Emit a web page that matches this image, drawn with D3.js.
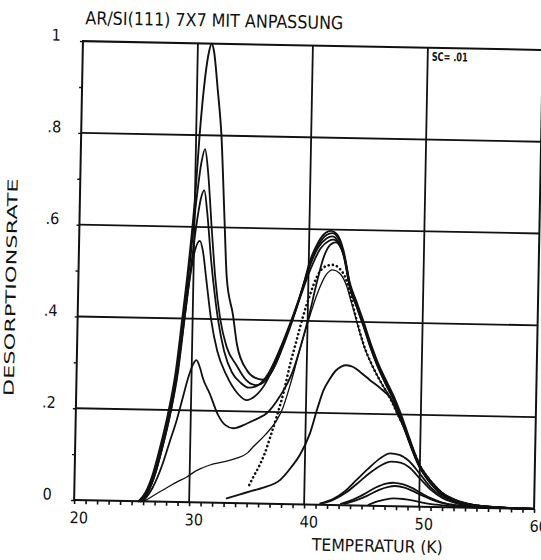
<!DOCTYPE html>
<html>
<head>
<meta charset="utf-8">
<script src="https://cdn.jsdelivr.net/npm/d3@7"></script>
<style>
  html, body { margin: 0; padding: 0; background: #fff; }
  svg { display: block; }
  text { font-family: "DejaVu Sans Condensed", "Liberation Sans Narrow", "DejaVu Sans", sans-serif; fill: #111; }
</style>
</head>
<body>
<svg id="chart" width="541" height="560"></svg>
<script>
// ---- labels ----
const title = "AR/SI(111) 7X7 MIT ANPASSUNG";
const xTitle = "TEMPERATUR (K)";
const yTitle = "DESORPTIONSRATE";
const scaleNote = "SC= .01";
const xTicks = [20, 30, 40, 50, 60];
const xTickLabels = ["20", "30", "40", "50", "60"];
const yTicks = [0, 0.2, 0.4, 0.6, 0.8, 1];
const yTickLabels = ["0", ".2", ".4", ".6", ".8", "1"];
const xGrid = [30, 40, 50];
const yGrid = [0.2, 0.4, 0.6, 0.8];

// ---- desorption spectra: [temperature (K), rate] ----
const runA = [[25.6,0],[26.2,0.02],[26.8,0.06],[27.4,0.12],[28.0,0.19],[28.6,0.28],[29.1,0.40],[29.6,0.53],[30.0,0.66],[30.3,0.80],[30.7,0.93],[31.0,0.985],[31.2,1.0],[31.4,0.985],[31.8,0.9],[32.2,0.8],[32.6,0.62],[32.9,0.49],[33.5,0.41],[33.9,0.345],[34.8,0.29],[35.5,0.274],[36.2,0.27],[37.0,0.29],[38.0,0.35],[38.8,0.41],[39.5,0.47],[40.1,0.53],[40.8,0.572],[41.4,0.592],[41.9,0.597],[42.4,0.59],[43.0,0.555],[43.6,0.485],[44.2,0.445],[44.8,0.405],[45.5,0.355],[46.3,0.305],[47.0,0.27],[47.6,0.24],[48.2,0.205],[48.8,0.165],[49.4,0.125],[50.0,0.09],[50.6,0.068],[51.2,0.05],[52.0,0.031],[53.0,0.018],[54.0,0.01],[55.0,0.005],[57.0,0.0015],[60.0,0]];
const runB = [[25.7,0],[26.3,0.02],[26.9,0.06],[27.5,0.12],[28.1,0.19],[28.7,0.28],[29.2,0.40],[29.7,0.53],[30.1,0.65],[30.5,0.74],[30.8,0.77],[31.1,0.72],[31.5,0.6],[31.9,0.49],[32.4,0.40],[33.0,0.34],[33.9,0.3],[34.7,0.27],[35.6,0.258],[36.5,0.27],[37.3,0.305],[38.2,0.37],[38.9,0.42],[39.6,0.48],[40.2,0.53],[40.9,0.57],[41.5,0.588],[42.0,0.592],[42.5,0.582],[43.0,0.55],[43.6,0.48],[44.2,0.44],[44.8,0.4],[45.5,0.35],[46.3,0.3],[47.0,0.266],[47.6,0.237],[48.2,0.2],[48.8,0.16],[49.4,0.122],[50.0,0.088],[50.6,0.066],[51.2,0.048],[52.0,0.03],[53.0,0.017],[54.0,0.009],[55.0,0.005],[57.0,0.0015],[60.0,0]];
const runC = [[25.8,0],[26.4,0.02],[27.0,0.06],[27.6,0.12],[28.2,0.19],[28.8,0.28],[29.3,0.40],[29.8,0.52],[30.2,0.61],[30.5,0.66],[30.8,0.68],[31.1,0.63],[31.5,0.53],[31.9,0.45],[32.2,0.40],[32.8,0.33],[33.5,0.285],[34.3,0.262],[35.0,0.252],[35.8,0.258],[36.7,0.285],[37.6,0.335],[38.5,0.395],[39.3,0.455],[40.1,0.52],[40.8,0.56],[41.5,0.58],[42.0,0.585],[42.5,0.575],[43.0,0.545],[43.6,0.478],[44.2,0.438],[44.8,0.398],[45.5,0.348],[46.3,0.298],[47.0,0.264],[47.6,0.235],[48.2,0.198],[48.8,0.158],[49.4,0.12],[50.0,0.087],[50.6,0.065],[51.2,0.047],[52.0,0.029],[53.0,0.016],[54.0,0.009],[55.0,0.005],[57.0,0.0015],[60.0,0]];
const runD = [[25.8,0],[26.4,0.02],[27.0,0.06],[27.6,0.12],[28.2,0.19],[28.7,0.27],[29.2,0.38],[29.7,0.49],[30.1,0.55],[30.5,0.57],[30.8,0.545],[31.1,0.49],[31.6,0.40],[32.2,0.33],[33.0,0.28],[34.0,0.24],[34.8,0.225],[35.6,0.235],[36.5,0.265],[37.5,0.325],[38.5,0.39],[39.3,0.45],[40.2,0.515],[41.0,0.558],[41.7,0.575],[42.1,0.578],[42.6,0.568],[43.1,0.54],[43.6,0.475],[44.2,0.435],[44.8,0.395],[45.5,0.345],[46.3,0.296],[47.0,0.262],[47.6,0.234],[48.2,0.197],[48.8,0.157],[49.4,0.119],[50.0,0.086],[50.6,0.064],[51.2,0.046],[52.0,0.028],[53.0,0.016],[54.0,0.009],[55.0,0.005],[57.0,0.0015],[60.0,0]];
const runE = [[26.0,0],[26.8,0.03],[27.6,0.08],[28.2,0.13],[28.8,0.18],[29.3,0.23],[29.7,0.27],[30.1,0.30],[30.4,0.31],[30.7,0.295],[31.0,0.27],[31.6,0.238],[32.4,0.19],[33.0,0.17],[33.7,0.163],[34.9,0.174],[35.8,0.185],[36.6,0.197],[37.7,0.234],[38.8,0.29],[39.5,0.35],[40.1,0.41],[40.7,0.48],[41.3,0.54],[41.9,0.568],[42.3,0.572],[42.8,0.56],[43.2,0.53],[43.7,0.47],[44.3,0.43],[44.9,0.39],[45.6,0.34],[46.4,0.292],[47.0,0.26],[47.6,0.232],[48.2,0.195],[48.8,0.155],[49.4,0.117],[50.0,0.085],[50.6,0.063],[51.2,0.045],[52.0,0.027],[53.0,0.015],[54.0,0.008],[55.0,0.004],[57.0,0.001],[60.0,0]];
const runF = [[26.1,0],[27.0,0.015],[28.0,0.03],[29.0,0.045],[29.75,0.055],[30.5,0.068],[31.75,0.082],[33.0,0.09],[34.06,0.098],[35.0,0.11],[35.5,0.124],[36.5,0.15],[37.5,0.183],[38.0,0.21],[38.7,0.27],[39.4,0.34],[40.06,0.40],[40.8,0.46],[41.5,0.5],[42.1,0.512],[42.7,0.505],[43.3,0.48],[43.8,0.44],[44.4,0.39],[44.9,0.35],[45.8,0.3],[46.7,0.26],[47.5,0.23],[48.2,0.195],[48.8,0.157],[49.4,0.12],[50.0,0.086],[50.6,0.064],[51.2,0.046],[52.0,0.028],[53.0,0.016],[54.0,0.008],[55.0,0.004],[57.0,0.001],[60.0,0]];
const fitF = [[35.2,0.04],[35.54,0.058],[36.0,0.08],[36.5,0.11],[37.0,0.15],[37.47,0.19],[38.0,0.24],[38.6,0.31],[39.1,0.36],[39.6,0.41],[40.2,0.46],[40.8,0.5],[41.5,0.52],[42.1,0.523],[42.7,0.515],[43.3,0.49],[43.7,0.455],[44.3,0.40],[44.88,0.353],[45.8,0.30],[46.7,0.26],[47.3,0.235],[48.0,0.2],[48.8,0.16],[49.4,0.122],[50.0,0.09],[51.0,0.055],[52.0,0.03],[53.0,0.016],[54.0,0.008],[56.0,0.002]];
const runH = [[33.26,0.01],[34.5,0.02],[35.5,0.028],[36.43,0.035],[37.86,0.052],[38.8,0.08],[39.56,0.108],[40.39,0.155],[41.0,0.21],[41.5,0.25],[42.04,0.275],[42.5,0.292],[43.0,0.302],[43.47,0.305],[44.0,0.302],[44.7,0.29],[45.5,0.274],[46.5,0.255],[47.3,0.236],[48.0,0.2],[48.8,0.158],[49.4,0.12],[50.0,0.086],[50.6,0.063],[51.2,0.045],[52.0,0.027],[53.0,0.014],[54.0,0.007],[56.0,0.002],[60.0,0]];
const runI1 = [[41.4,0.003],[42.5,0.013],[43.5,0.03],[44.5,0.055],[45.5,0.08],[46.5,0.103],[47.4,0.115],[48.2,0.112],[49.0,0.1],[50.0,0.072],[51.0,0.042],[52.0,0.023],[53.0,0.012],[54.0,0.006],[56.0,0.002],[60.0,0]];
const runI2 = [[41.6,0.003],[42.6,0.012],[43.6,0.027],[44.6,0.048],[45.6,0.07],[46.6,0.088],[47.5,0.097],[48.3,0.095],[49.1,0.085],[50.0,0.062],[51.0,0.037],[52.0,0.02],[53.0,0.011],[54.0,0.005],[56.0,0.0015],[60.0,0]];
const runI3 = [[43.2,0.003],[44.2,0.012],[45.2,0.025],[46.2,0.04],[47.1,0.049],[47.8,0.051],[48.6,0.048],[49.4,0.04],[50.2,0.029],[51.0,0.019],[52.0,0.01],[53.0,0.005],[55.0,0.002],[60.0,0]];
const runI4 = [[43.5,0.003],[44.5,0.011],[45.5,0.022],[46.5,0.035],[47.3,0.042],[47.9,0.044],[48.7,0.041],[49.5,0.033],[50.3,0.024],[51.2,0.015],[52.2,0.008],[53.5,0.004],[56.0,0.001]];
const runI5 = [[45.6,0.002],[46.3,0.009],[47.0,0.014],[47.8,0.017],[48.6,0.016],[49.5,0.013],[50.5,0.008],[51.5,0.005],[53.0,0.002],[56.0,0]];

const series = [
  { data: runI5, w: 1.8 }, { data: runI4, w: 1.8 }, { data: runI3, w: 1.8 },
  { data: runI2, w: 1.8 }, { data: runI1, w: 1.8 },
  { data: runH, w: 1.9 }, { data: runF, w: 1.3 },
  { data: runE, w: 1.8 }, { data: runD, w: 1.8 }, { data: runC, w: 1.8 },
  { data: runB, w: 1.8 }, { data: runA, w: 1.9 },
  { data: fitF, w: 2.6, dotted: true }
];

// ---- frame ----
const X0 = 78.5, Y0 = 45.5, W = 460, H = 459;
const svg = d3.select("#chart");
svg.append("rect").attr("width", 541).attr("height", 560).attr("fill", "#fff");

// the whole sheet sits slightly tilted on the plotter bed
const g = svg.append("g").attr("transform", "rotate(1.1,308.5,275)");

const x = d3.scaleLinear().domain([20, 60]).range([X0, X0 + W]);
const y = d3.scaleLinear().domain([0, 1]).range([Y0 + H, Y0]);

// grid lines
g.append("g").selectAll("line").data(xGrid).join("line")
  .attr("x1", d => x(d)).attr("x2", d => x(d))
  .attr("y1", y(0)).attr("y2", y(1))
  .attr("stroke", "#111").attr("stroke-width", 1.8);
g.append("g").selectAll("line").data(yGrid).join("line")
  .attr("x1", x(20)).attr("x2", x(60))
  .attr("y1", d => y(d)).attr("y2", d => y(d))
  .attr("stroke", "#111").attr("stroke-width", 1.8);

// minor ticks on bottom axis (every 1 K) and left axis (every 0.1)
const bottomAxis = d3.axisBottom(x).tickValues(d3.range(20, 61, 1)).tickSize(4).tickFormat("");
const ba = g.append("g").attr("transform", `translate(0,${y(0)})`).call(bottomAxis);
ba.select(".domain").remove();
ba.selectAll("line").attr("stroke", "#111").attr("stroke-width", 1.6);

const leftAxis = d3.axisLeft(y).tickValues(d3.range(0, 1.01, 0.1)).tickSize(3).tickFormat("");
const la = g.append("g").attr("transform", `translate(${x(20)},0)`).call(leftAxis);
la.select(".domain").remove();
la.selectAll("line").attr("stroke", "#111").attr("stroke-width", 1.4);

// frame
g.append("rect")
  .attr("x", x(20)).attr("y", y(1))
  .attr("width", x(60) - x(20)).attr("height", y(0) - y(1))
  .attr("fill", "none").attr("stroke", "#111").attr("stroke-width", 2);

// curves
const line = d3.line().x(d => x(d[0])).y(d => y(d[1])).curve(d3.curveMonotoneX);
g.append("g").selectAll("path").data(series).join("path")
  .attr("d", d => line(d.data))
  .attr("fill", "none")
  .attr("stroke", "#111")
  .attr("stroke-width", d => d.w)
  .attr("stroke-linejoin", "round")
  .attr("stroke-linecap", "round")
  .attr("stroke-dasharray", d => d.dotted ? "0.1 4.2" : null);

// tick labels
g.append("g").selectAll("text").data(xTicks).join("text")
  .attr("x", d => x(d) + 5).attr("y", y(0) + 23)
  .attr("text-anchor", "middle")
  .attr("font-size", 16)
  .text((d, i) => xTickLabels[i]);

g.append("g").selectAll("text").data(yTicks).join("text")
  .attr("x", x(20) - 27).attr("y", d => y(d) + 0)
  .attr("text-anchor", "middle")
  .attr("font-size", 16)
  .text((d, i) => yTickLabels[i]);

// titles
g.append("text")
  .attr("x", X0 + 2).attr("y", Y0 - 17)
  .attr("font-size", 18)
  .attr("textLength", 258).attr("lengthAdjust", "spacingAndGlyphs")
  .text(title);

g.append("text")
  .attr("x", 317).attr("y", Y0 + H + 46)
  .attr("font-size", 17)
  .attr("textLength", 131).attr("lengthAdjust", "spacingAndGlyphs")
  .text(xTitle);

g.append("text")
  .attr("transform", "translate(16,293) rotate(-90)")
  .attr("text-anchor", "middle")
  .attr("font-size", 14)
  .attr("textLength", 218).attr("lengthAdjust", "spacingAndGlyphs")
  .text(yTitle);

g.append("text")
  .attr("x", x(50) + 4).attr("y", y(1) + 13)
  .attr("font-size", 12).attr("font-weight", "bold")
  .attr("textLength", 36).attr("lengthAdjust", "spacingAndGlyphs")
  .text(scaleNote);
</script>
</body>
</html>
